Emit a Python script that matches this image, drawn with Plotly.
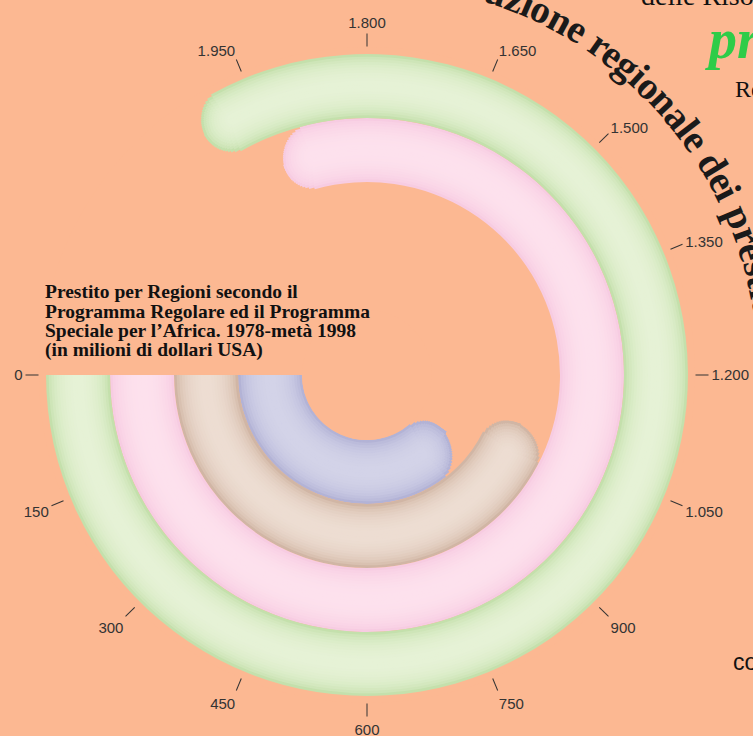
import math
import plotly.graph_objects as go

# Lending by region, 1978 - mid 1998 (million USD); rings from inner to outer
FULL_SCALE = 2400
ring_names = ["blu", "beige", "rosa", "verde"]
ring_values = [830, 1005, 1890, 1985]
edge_colors = ["#A6A6CF", "#C6A693", "#F5C3DD", "#B7D99B"]
mid_colors = ["#D3D3E8", "#EDDDD2", "#FDE1ED", "#E6F2D6"]

tick_values = list(range(0, 2000, 150))
tick_labels = [f"{v:,}".replace(",", ".") for v in tick_values]

title_lines = [
    "Prestito per Regioni secondo il",
    "Programma Regolare ed il Programma",
    "Speciale per l’Africa. 1978-metà 1998",
    "(in milioni di dollari USA)",
]
curved_title = "Distribuzione regionale dei prestiti"

BG = "#FCB892"
W, H = 753, 736
CX, CY, R_OUT, R_HOLE = 367, 375, 328, 65
RANGE_MAX = 4.11
N_BANDS = 12


def deg(v):
    return v * 360 / FULL_SCALE


def hex_rgb(c):
    return [int(c[i:i + 2], 16) for i in (1, 3, 5)]


def mix(c1, c2, s):
    a, b = hex_rgb(c1), hex_rgb(c2)
    return "rgb(%d,%d,%d)" % tuple(round(x + (y - x) * s) for x, y in zip(a, b))


fig = go.Figure()
px_per_unit = (R_OUT - R_HOLE) / RANGE_MAX

# each ring is a "tube": nested bands (darker at the edges), each band drawn
# as thin slices so that the end gets a rounded cap
for i, (name, val) in enumerate(zip(ring_names, ring_values)):
    r_list, base_list, theta_list, width_list, col_list = [], [], [], [], []
    for k in range(N_BANDS):
        t = 1 - (k + 0.5) / N_BANDS
        col = mix(edge_colors[i], mid_colors[i], math.sqrt(1 - t * t))
        h = 0.5 * (1 - k / N_BANDS)
        m = max(3, round(18 * (1 - k / N_BANDS)))
        for side in (1, -1):
            for j in range(m):
                y_out = h * (1 - j / m)
                y_mid = h * (1 - (j + 0.5) / m)
                arc = math.sqrt(h * h - y_mid * y_mid) * px_per_unit
                r_px = R_HOLE + (i + 0.5 + side * y_mid) * px_per_unit
                span = deg(val) + math.degrees(arc / r_px)
                lo, hi = sorted((i + 0.5 - side * 0.01, i + 0.5 + side * y_out))
                r_list.append(hi - lo)
                base_list.append(lo)
                theta_list.append(span / 2)
                width_list.append(span)
                col_list.append(col)
    fig.add_trace(go.Barpolar(
        name=name,
        r=r_list, base=base_list, theta=theta_list, width=width_list,
        marker=dict(color=col_list, line=dict(width=0)),
        hovertext=f"{name}: {val}", hoverinfo="text",
        showlegend=False,
    ))

annotations = []

# title box
TITLE_FS = 19.5
for j, line in enumerate(title_lines):
    baseline = 298 + j * 19.7
    annotations.append(dict(
        text="<b>" + line + "</b>", xref="paper", yref="paper",
        x=43 / W, y=1 - (baseline - 0.34 * TITLE_FS) / H,
        xanchor="left", yanchor="middle", showarrow=False,
        font=dict(family="Liberation Serif", size=TITLE_FS, color="#111"),
    ))

# curved heading along the outside of the rings
widths = {" ": .25, "a": .5, "b": .556, "d": .556, "e": .444, "g": .5, "i": .278,
          "l": .278, "n": .556, "o": .5, "p": .556, "r": .444, "s": .389, "t": .333,
          "u": .556, "z": .444, "D": .722}
CURVE_FS, CURVE_R = 39, 405
centers, cum = [], 0
for ch in curved_title:
    w = widths.get(ch, .5)
    centers.append(cum + w / 2)
    cum += w
anchor = centers[12]
for ch, c in zip(curved_title, centers):
    if ch == " ":
        continue
    a = 31.3 + math.degrees((c - anchor) * CURVE_FS / CURVE_R)
    x = CX + CURVE_R * math.sin(math.radians(a))
    y = CY - CURVE_R * math.cos(math.radians(a))
    if -60 < x < W + 60 and -60 < y < H + 60:
        annotations.append(dict(
            text="<b>" + ch + "</b>", xref="paper", yref="paper",
            x=x / W, y=1 - y / H, xanchor="center", yanchor="middle",
            textangle=a, showarrow=False,
            font=dict(family="Liberation Serif", size=CURVE_FS, color="#1a1a1a"),
        ))

# fragments of the surrounding page
fragments = [
    ("delle Risorse", 639, 5, 28, "Liberation Serif", "#111"),
    ("<b><i>pr</i></b>", 703, 58, 56, "Liberation Serif", "#2ECC48"),
    ("Re", 733, 97, 24, "Liberation Serif", "#111"),
    ("co", 731, 670, 23, "Liberation Sans", "#111"),
]
for txt, x0, base, fs, fam, col in fragments:
    annotations.append(dict(
        text=txt, xref="paper", yref="paper",
        x=x0 / W, y=1 - (base - 0.34 * fs) / H,
        xanchor="left", yanchor="middle", showarrow=False,
        font=dict(family=fam, size=fs, color=col),
    ))

fig.update_layout(
    width=W, height=H,
    margin=dict(l=0, r=0, t=0, b=0),
    paper_bgcolor=BG,
    plot_bgcolor=BG,
    polar=dict(
        domain=dict(x=[(CX - R_OUT) / W, (CX + R_OUT) / W],
                    y=[(H - CY - R_OUT) / H, (H - CY + R_OUT) / H]),
        bgcolor=BG,
        hole=R_HOLE / R_OUT,
        barmode="overlay",
        radialaxis=dict(visible=False, range=[0, RANGE_MAX]),
        angularaxis=dict(
            rotation=180, direction="counterclockwise",
            tickmode="array", tickvals=[deg(v) for v in tick_values], ticktext=tick_labels,
            ticks="outside", ticklen=13, tickwidth=1, tickcolor="#333",
            showline=False, showgrid=False,
            tickfont=dict(family="Liberation Sans", size=15, color="#333"),
        ),
    ),
    annotations=annotations,
)

fig.write_html("out.html", config={"displayModeBar": False},
               post_script="document.body.style.margin='0';")
